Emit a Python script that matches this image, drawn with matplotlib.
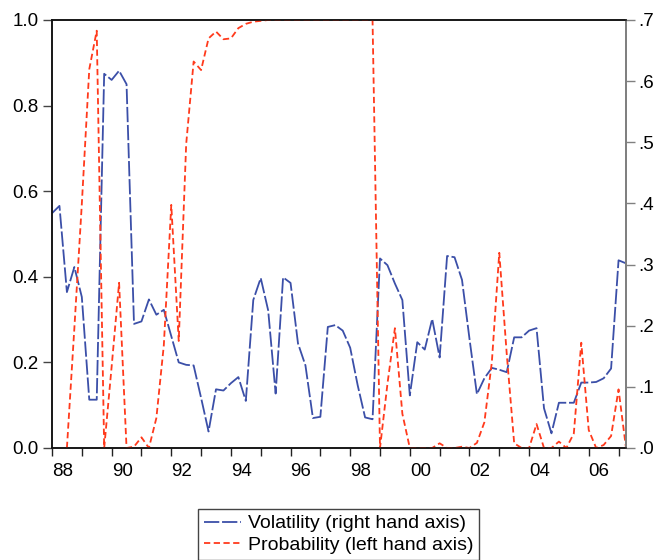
import numpy as np
import matplotlib
matplotlib.use('Agg')
import matplotlib.pyplot as plt
from matplotlib.lines import Line2D

plt.rcParams['font.family'] = ['Liberation Sans', 'DejaVu Sans']
plt.rcParams['lines.scale_dashes'] = False

# quarterly data, 1988Q1 .. 2007Q2
start_year = 1988
volatility = [0.384, 0.396, 0.255, 0.296, 0.247, 0.079, 0.079, 0.612, 0.602, 0.617,
              0.595, 0.203, 0.207, 0.243, 0.218, 0.226, 0.183, 0.140, 0.136, 0.135,
              0.082, 0.027, 0.096, 0.094, 0.106, 0.116, 0.077, 0.242, 0.278, 0.225,
              0.089, 0.279, 0.270, 0.171, 0.135, 0.049, 0.051, 0.198, 0.201, 0.192,
              0.164, 0.103, 0.050, 0.047, 0.310, 0.299, 0.269, 0.242, 0.086, 0.173,
              0.161, 0.211, 0.148, 0.314, 0.312, 0.275, 0.179, 0.088, 0.114, 0.131,
              0.128, 0.124, 0.181, 0.181, 0.192, 0.196, 0.065, 0.024, 0.074, 0.074,
              0.074, 0.107, 0.107, 0.108, 0.114, 0.130, 0.307, 0.302]
probability = [np.nan, np.nan, 0.0, 0.28, 0.57, 0.885, 0.975, 0.0, 0.19, 0.386,
               0.0, 0.003, 0.025, 0.0, 0.07, 0.24, 0.568, 0.25, 0.71, 0.903,
               0.883, 0.957, 0.973, 0.955, 0.957, 0.981, 0.991, 0.996, 0.998, 1.0,
               1.0, 1.0, 1.0, 1.0, 1.0, 1.0, 1.0, 1.0, 1.0, 1.0,
               1.0, 1.0, 1.0, 1.0, 0.0, 0.15, 0.28, 0.08, 0.0, 0.0,
               0.0, 0.0, 0.011, 0.0, 0.0, 0.003, 0.0, 0.012, 0.06, 0.2,
               0.456, 0.22, 0.011, 0.0, 0.0, 0.056, 0.0, 0.0, 0.015, 0.0,
               0.034, 0.246, 0.042, 0.0, 0.007, 0.028, 0.137, 0.0]

year_ticks = list(range(1988, 2008))
year_labels = ['%02d' % (y % 100) if y % 2 == 0 else '' for y in year_ticks]
prob_ticks = [0.0, 0.2, 0.4, 0.6, 0.8, 1.0]
prob_labels = ['0.0', '0.2', '0.4', '0.6', '0.8', '1.0']
vol_ticks = [0.0, 0.1, 0.2, 0.3, 0.4, 0.5, 0.6, 0.7]
vol_labels = ['.0', '.1', '.2', '.3', '.4', '.5', '.6', '.7']

blue = '#3B4FA8'
red = '#FF3A1C'
blue_dash = (11, 2)
red_dash = (4.5, 2.5)

t = start_year + np.arange(len(volatility)) / 4

fig = plt.figure(figsize=(6.57, 5.6), dpi=100)
ax = fig.add_axes([52 / 657, 1 - 448 / 560, (626 - 52) / 657, (448 - 20) / 560])
ax2 = ax.twinx()
ax.set_zorder(ax2.get_zorder() + 1)
ax.patch.set_visible(False)

ax2.plot(t, volatility, color=blue, lw=1.3, dashes=blue_dash)
ax.plot(t, probability, color=red, lw=1.3, dashes=red_dash)

ax.set_xlim(1988, 2007.25)
ax.set_ylim(0, 1)
ax2.set_ylim(0, 0.7)

ax.set_xticks(year_ticks)
ax.set_xticklabels(year_labels)
for lab in ax.get_xticklabels():
    lab.set_horizontalalignment('left')
ax.set_yticks(prob_ticks)
ax.set_yticklabels(prob_labels)
ax2.set_yticks(vol_ticks)
ax2.set_yticklabels(vol_labels)

ax.tick_params(axis='x', direction='out', length=6, width=1, labelsize=13.5, pad=5, color='#222')
ax.tick_params(axis='y', direction='out', length=6.5, width=1, labelsize=13.5, pad=3, color='#444')
ax2.tick_params(axis='y', direction='out', length=6.5, width=1, labelsize=13.5, pad=2, color='#808080')

for a in (ax, ax2):
    for side in ('left', 'bottom', 'top'):
        a.spines[side].set_color('#111')
        a.spines[side].set_linewidth(1.1)
    a.spines['right'].set_color('#808080')
    a.spines['right'].set_linewidth(1.4)

handles = [Line2D([], [], color=blue, lw=1.3, dashes=blue_dash),
           Line2D([], [], color=red, lw=1.3, dashes=red_dash)]
leg = fig.legend(handles, ['Volatility (right hand axis)', 'Probability (left hand axis)'],
                 loc='upper center', bbox_to_anchor=(338.5 / 657, 1 - 509 / 560),
                 fontsize=14, frameon=True, fancybox=False, edgecolor='#444',
                 framealpha=1, handlelength=1.9, borderpad=0.3, labelspacing=0.2,
                 handletextpad=0.35, borderaxespad=0)
leg.get_frame().set_linewidth(1.0)

fig.savefig('out.png', dpi=100)
